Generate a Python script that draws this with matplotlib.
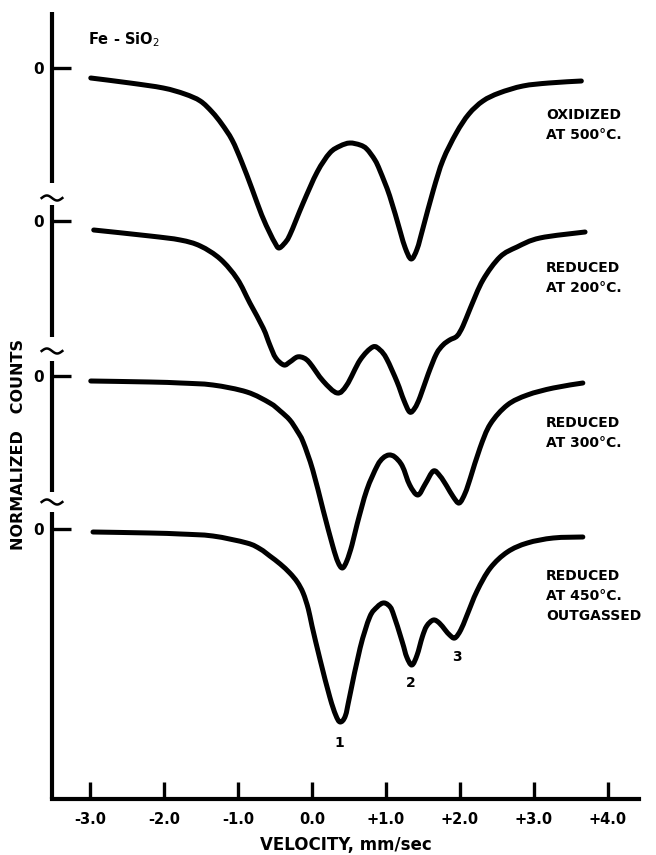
"""Mossbauer spectra of Fe-SiO2 after successive treatments (traced figure)."""

import matplotlib.pyplot as plt
import numpy as np
from matplotlib.patches import PathPatch
from matplotlib.path import Path

# velocity in mm/sec, counts relative to each spectrum's own zero level
# (arbitrary units, negative = absorption)
V_OXIDIZED = [-2.99, -2.46, -2.01, -1.72, -1.51, -1.35, -1.22, -1.08, -0.95, -0.81,
              -0.68, -0.57, -0.50, -0.45, -0.38, -0.30, -0.12, 0.07, 0.24, 0.38,
              0.51, 0.65, 0.74, 0.85, 0.92, 1.05, 1.19, 1.26, 1.34, 1.42,
              1.50, 1.64, 1.77, 1.95, 2.12, 2.31, 2.53, 2.85, 3.20, 3.64]
C_OXIDIZED = [-10, -15, -20, -26, -33, -44, -56, -72, -94, -121,
              -147, -165, -175, -180, -176, -167, -135, -104, -85, -78,
              -75, -77, -81, -92, -103, -128, -163, -180, -191, -181,
              -160, -122, -92, -65, -46, -33, -25, -18, -15, -13]

V_RED_200 = [-2.95, -2.19, -1.78, -1.51, -1.24, -1.01, -0.84, -0.66, -0.57, -0.49,
             -0.38, -0.30, -0.20, -0.11, -0.03, 0.15, 0.34, 0.47, 0.65, 0.82,
             0.92, 1.01, 1.15, 1.24, 1.32, 1.39, 1.46, 1.57, 1.68, 1.77,
             1.86, 1.96, 2.04, 2.14, 2.31, 2.54, 2.77, 3.08, 3.69]
C_RED_200 = [-9, -15, -19, -25, -38, -58, -82, -107, -124, -137,
             -144, -141, -136, -137, -142, -160, -172, -164, -139, -126,
             -129, -138, -161, -179, -191, -187, -176, -153, -133, -124,
             -119, -115, -105, -87, -59, -36, -26, -17, -11]

V_RED_300 = [-2.99, -2.19, -1.78, -1.34, -0.88, -0.57, -0.43, -0.30, -0.20, -0.12,
             0.01, 0.15, 0.28, 0.35, 0.41, 0.47, 0.54, 0.61, 0.74, 0.88,
             0.96, 1.04, 1.12, 1.22, 1.32, 1.43, 1.53, 1.64, 1.73, 1.82,
             1.91, 1.99, 2.07, 2.14, 2.27, 2.41, 2.64, 2.91, 3.26, 3.66]
C_RED_300 = [-5, -6, -7, -9, -16, -27, -35, -44, -55, -66,
             -94, -134, -170, -186, -192, -185, -169, -148, -114, -90,
             -82, -79, -81, -90, -109, -119, -108, -95, -100, -110,
             -121, -127, -117, -102, -72, -48, -29, -19, -12, -7]

V_RED_450 = [-2.96, -2.19, -1.78, -1.34, -0.88, -0.70, -0.57, -0.43, -0.30, -0.20,
             -0.12, -0.05, 0.00, 0.11, 0.24, 0.32, 0.38, 0.45, 0.51, 0.65,
             0.78, 0.88, 0.96, 1.03, 1.09, 1.22, 1.28, 1.35, 1.42, 1.49,
             1.55, 1.64, 1.72, 1.80, 1.86, 1.93, 2.01, 2.09, 2.23, 2.41,
             2.64, 2.91, 3.26, 3.66]
C_RED_450 = [-3, -4, -5, -7, -14, -20, -27, -35, -44, -53,
             -64, -80, -97, -131, -168, -186, -193, -187, -167, -119,
             -88, -78, -74, -76, -83, -113, -128, -136, -126, -108,
             -97, -91, -94, -101, -106, -109, -101, -87, -62, -39,
             -23, -14, -9, -8]

SPECTRA = [(V_OXIDIZED, C_OXIDIZED), (V_RED_200, C_RED_200),
           (V_RED_300, C_RED_300), (V_RED_450, C_RED_450)]
SPECTRUM_LABELS = [["OXIDIZED", "AT 500°C."],
                   ["REDUCED", "AT 200°C."],
                   ["REDUCED", "AT 300°C."],
                   ["REDUCED", "AT 450°C.", "OUTGASSED"]]

# peaks numbered on the last spectrum: (velocity, counts of the label)
PEAK_NAMES = ["1", "2", "3"]
PEAK_V = [0.37, 1.34, 1.96]
PEAK_C = [-214, -154, -128]

X_TICKS = [-3.0, -2.0, -1.0, 0.0, 1.0, 2.0, 3.0, 4.0]
X_TICK_LABELS = ["-3.0", "-2.0", "-1.0", "0.0", "+1.0", "+2.0", "+3.0", "+4.0"]

# vertical stacking of the spectra and the broken y axis
OFFSETS = [731, 578, 423, 270]
Y_SEGMENTS = [(616, 787), (462, 594), (307, 438), (0, 287)]
Y_BREAKS = [601, 448, 297]

FONT = dict(family="DejaVu Sans", weight="bold")


def smooth_path(x, y):
    """Bezier path through the traced points (Catmull-Rom tangents)."""
    p = np.column_stack([x, y]).astype(float)
    ext = np.vstack([p[0], p, p[-1]])
    verts = [p[0]]
    codes = [Path.MOVETO]
    for i in range(len(p) - 1):
        a, b, c, d = ext[i], ext[i + 1], ext[i + 2], ext[i + 3]
        verts += [b + (c - a) / 6, c - (d - b) / 6, c]
        codes += [Path.CURVE4] * 3
    return Path(verts, codes)


fig = plt.figure(figsize=(6.56, 8.55), dpi=100)
ax = fig.add_axes([52 / 656, 56 / 855, 587 / 656, 787 / 855])
ax.set_xlim(-3.514, 4.419)
ax.set_ylim(0, 787)
x0 = ax.get_xlim()[0]

for (v, c), off in zip(SPECTRA, OFFSETS):
    path = smooth_path(v, np.asarray(c) + off)
    ax.add_patch(PathPatch(path, fill=False, edgecolor="black", lw=3.6,
                           capstyle="round", joinstyle="round"))

for lines, off in zip(SPECTRUM_LABELS, OFFSETS):
    for i, line in enumerate(lines):
        ax.text(3.16, off - 47 - 20 * i, line, fontsize=10, ha="left",
                va="center", **FONT)

for name, pv, pc in zip(PEAK_NAMES, PEAK_V, PEAK_C):
    ax.text(pv, OFFSETS[-1] + pc, name, fontsize=10, ha="center",
            va="center", **FONT)

ax.text(-3.03, 759, "Fe - SiO$_2$", fontsize=10.5, ha="left", va="center",
        **FONT)

# broken left axis
for lo, hi in Y_SEGMENTS:
    ax.plot([x0, x0], [lo, hi], color="black", lw=3.0,
            solid_capstyle="butt", clip_on=False)
t = np.linspace(0, 1, 40)
for yb in Y_BREAKS:
    ax.plot(x0 + (t - 0.5) * 0.28, yb + 2.5 * np.sin(2 * np.pi * t),
            color="black", lw=1.8, clip_on=False)

for side in ("left", "top", "right"):
    ax.spines[side].set_visible(False)
ax.spines["bottom"].set_linewidth(3.0)

ax.set_xticks(X_TICKS, X_TICK_LABELS)
ax.set_yticks(OFFSETS, ["0"] * len(OFFSETS))
ax.tick_params(axis="x", direction="in", length=12, width=2.4, pad=9,
               labelsize=10.5)
ax.tick_params(axis="y", direction="in", length=14, width=2.4, pad=6,
               labelsize=11)
for lab in ax.get_xticklabels() + ax.get_yticklabels():
    lab.set_fontweight("bold")

ax.set_xlabel("VELOCITY, mm/sec", fontsize=12, labelpad=7, **FONT)
ax.set_ylabel("NORMALIZED   COUNTS", fontsize=11.5, **FONT)
ax.yaxis.set_label_coords(-0.045, 0.451)

fig.savefig("out.png", dpi=100)
